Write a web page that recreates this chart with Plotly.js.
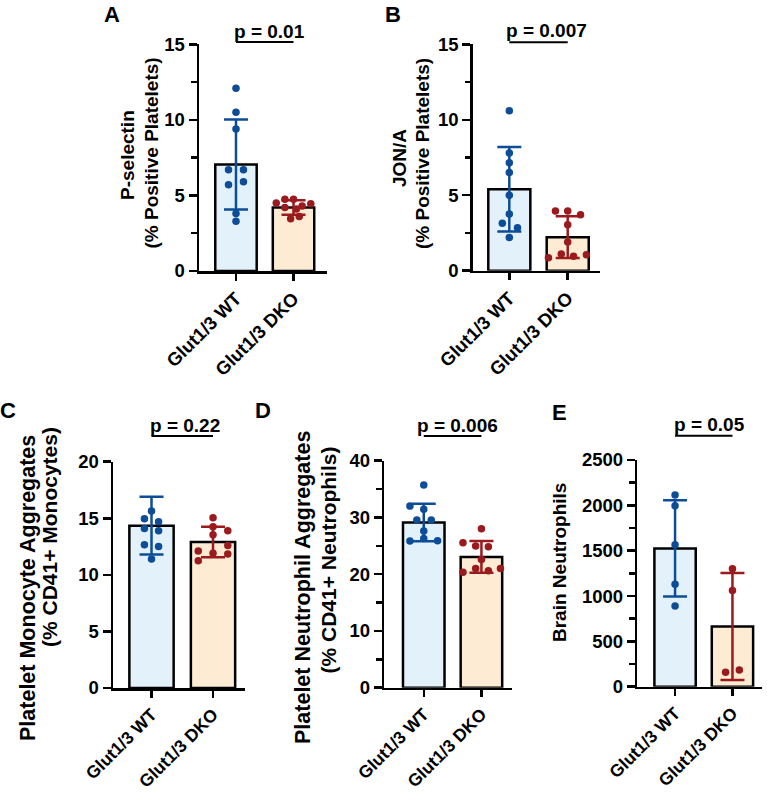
<!DOCTYPE html>
<html>
<head>
<meta charset="utf-8">
<script src="https://cdn.plot.ly/plotly-3.0.1.min.js"></script>
<style>html,body{margin:0;padding:0;background:#fff;}#chart{width:767px;height:795px;}</style>
</head>
<body>
<div id="chart"></div>
<script>
// ---------- data ----------
const groups = ['Glut1/3 WT', 'Glut1/3 DKO'];

// A: P-selectin (% positive platelets)
const pselWT = [12.1, 10.5, 9.4, 6.7, 6.7, 5.9, 5.7, 3.8, 3.3];
const pselWTJitter = [0, 0, 0, -0.13, 0.13, 0.13, -0.13, 0, 0];
const pselDKO = [4.75, 4.75, 4.5, 4.45, 4.3, 4.2, 4.1, 3.6, 3.45];
const pselDKOJitter = [-0.15, 0, -0.3, 0.3, 0.15, -0.15, 0.05, 0.1, -0.05];
const pselMean = [7.05, 4.2];
const pselSD = [2.98, 0.48];

// B: JON/A (% positive platelets)
const jonaWT = [10.6, 7.8, 7.15, 6.5, 5.0, 3.75, 3.15, 2.85, 2.2];
const jonaWTJitter = [0, 0, 0, 0, 0, 0, -0.12, 0.14, 0];
const jonaDKO = [3.95, 3.95, 3.7, 3.05, 1.9, 0.85, 1.1, 0.95, 1.05];
const jonaDKOJitter = [-0.21, 0, 0.22, 0, 0, -0.33, -0.11, 0.1, 0.32];
const jonaMean = [5.4, 2.22];
const jonaSD = [2.8, 1.38];

// C: platelet-monocyte aggregates (% CD41+ monocytes)
const pmaWT = [20.2, 15.65, 14.95, 14.7, 14.1, 13.9, 12.65, 12.5, 11.4];
const pmaWTJitter = [0, 0, -0.115, 0.115, -0.115, 0.115, -0.115, 0.115, 0];
const pmaDKO = [15.05, 14.25, 13.9, 13.55, 12.6, 12.1, 11.9, 11.85, 11.25];
const pmaDKOJitter = [0, 0, 0.24, 0, 0.24, -0.24, 0, 0.24, -0.24];
const pmaMean = [14.35, 12.9];
const pmaSD = [2.55, 1.35];

// D: platelet-neutrophil aggregates (% CD41+ neutrophils)
const pnaWT = [35.7, 32.0, 31.45, 29.55, 29.55, 27.6, 25.85, 26.3, 25.9];
const pnaWTJitter = [0, -0.24, 0, -0.12, 0.13, 0, -0.24, 0, 0.24];
const pnaDKO = [28.0, 25.55, 24.95, 24.85, 22.6, 20.35, 21.0, 20.6, 21.0];
const pnaDKOJitter = [0, -0.32, -0.1, 0.12, 0, -0.32, -0.1, 0.12, 0.33];
const pnaMean = [29.1, 23.05];
const pnaSD = [3.3, 2.8];

// E: brain neutrophils
const brainWT = [2115, 1995, 1565, 1130, 890];
const brainWTJitter = [0, 0, 0, 0, 0];
const brainDKO = [1300, 1060, 160, 185];
const brainDKOJitter = [0, 0, -0.12, 0.12];
const brainMean = [1525, 665];
const brainSD = [530, 590];

const pValues = ['p = 0.01', 'p = 0.007', 'p = 0.22', 'p = 0.006', 'p = 0.05'];
const panelLetters = ['A', 'B', 'C', 'D', 'E'];

// ---------- styling / layout ----------
const W = 767, H = 795;
const FONT = 'Liberation Sans, Arial, Helvetica, sans-serif';
const BLUE = '#0d4d97', RED = '#9a1a1e';
const FILL_WT = '#e3f1fb', FILL_DKO = '#fdebd3';
const LW = 2.5;
const X = px => px / W;
const Y = py => 1 - py / H;

const panels = [
  { wt: pselWT, wtJ: pselWTJitter, dko: pselDKO, dkoJ: pselDKOJitter, mean: pselMean, sd: pselSD,
    box: [199, 326.7, 44.3, 271], xr: [-0.643, 1.577], yr: [0, 15], dtick: 5, minor: 2.5, xfs: 18.5,
    titles: [['P-selectin', 128, 155, 19], ['(% Positive Platelets)', 151, 153.5, 19]],
    letter: [112, 15], pText: [269, 31.5], sigY: 42 },
  { wt: jonaWT, wtJ: jonaWTJitter, dko: jonaDKO, dkoJ: jonaDKOJitter, mean: jonaMean, sd: jonaSD,
    box: [472.7, 600, 44.3, 270.7], xr: [-0.627, 1.553], yr: [0, 15], dtick: 5, minor: 2.5, xfs: 18.5,
    titles: [['JON/A', 400, 158, 19], ['(% Positive Platelets)', 422.5, 153.5, 19]],
    letter: [393, 15], pText: [546.7, 31], sigY: 42.3 },
  { wt: pmaWT, wtJ: pmaWTJitter, dko: pmaDKO, dkoJ: pmaDKOJitter, mean: pmaMean, sd: pmaSD,
    box: [113, 245, 461.7, 688], xr: [-0.626, 1.52], yr: [0, 20], dtick: 5, minor: null, xfs: 17.5,
    titles: [['Platelet Monocyte Aggregates', 28, 588, 21.5], ['(% CD41+ Monocytes)', 49, 537, 21]],
    letter: [8, 410], pText: [185, 425.5], sigY: 436 },
  { wt: pnaWT, wtJ: pnaWTJitter, dko: pnaDKO, dkoJ: pnaDKOJitter, mean: pnaMean, sd: pnaSD,
    box: [384.3, 512, 460.7, 687.7], xr: [-0.684, 1.53], yr: [0, 40], dtick: 10, minor: 5, xfs: 17.5,
    titles: [['Platelet Neutrophil Aggregates', 303, 588, 21.5], ['(% CD41+ Neutrophils)', 327.5, 560, 21]],
    letter: [263, 410], pText: [457.5, 425.5], sigY: 436 },
  { wt: brainWT, wtJ: brainWTJitter, dko: brainDKO, dkoJ: brainDKOJitter, mean: brainMean, sd: brainSD,
    box: [637.3, 762.3, 460, 686.7], xr: [-0.658, 1.52], yr: [0, 2500], dtick: 500, minor: 250, xfs: 17.5,
    titles: [['Brain Neutrophils', 559, 563, 19]],
    letter: [559, 412], pText: [709, 424], sigY: 435.7 }
];

const data = [];
const layout = {
  width: W, height: H,
  margin: { l: 0, r: 0, t: 0, b: 0 },
  paper_bgcolor: '#fff', plot_bgcolor: 'rgba(0,0,0,0)',
  showlegend: false, barmode: 'overlay',
  font: { family: FONT, color: '#000', size: 18, weight: 'bold' },
  annotations: [], shapes: []
};

panels.forEach((p, i) => {
  const n = i === 0 ? '' : String(i + 1);
  const xa = 'x' + n, ya = 'y' + n;
  const [x0, x1, yTop, yBot] = p.box;

  layout['xaxis' + n] = {
    domain: [X(x0), X(x1)], anchor: ya, range: p.xr,
    tickmode: 'array', tickvals: [0, 1], ticktext: groups, tickangle: -45,
    ticks: 'outside', ticklen: 7, tickwidth: LW, tickcolor: '#000',
    showline: true, linewidth: LW, linecolor: '#000',
    showgrid: false, zeroline: false, fixedrange: true,
    tickfont: { family: FONT, size: p.xfs, weight: 'bold', color: '#000' }
  };
  const yax = {
    domain: [Y(yBot), Y(yTop)], anchor: xa, range: p.yr,
    tickmode: 'linear', tick0: 0, dtick: p.dtick,
    ticks: 'outside', ticklen: 8, tickwidth: LW, tickcolor: '#000',
    showline: true, linewidth: LW, linecolor: '#000',
    showgrid: false, zeroline: false, fixedrange: true,
    tickfont: { family: FONT, size: 18.5, weight: 'bold', color: '#000' }
  };
  if (p.minor) yax.minor = { dtick: p.minor, tick0: 0, ticks: 'outside', ticklen: 5.5, tickwidth: LW, tickcolor: '#000', showgrid: false };
  layout['yaxis' + n] = yax;

  // bars with SD error bars
  [[0, FILL_WT, BLUE], [1, FILL_DKO, RED]].forEach(([g, fill, col]) => {
    data.push({
      type: 'bar', x: [g], y: [p.mean[g]], width: [0.72], xaxis: xa, yaxis: ya,
      name: groups[g],
      marker: { color: fill, line: { color: '#000', width: LW } },
      error_y: { type: 'data', array: [p.sd[g]], visible: true, color: col, thickness: LW, width: 12 },
      hoverinfo: 'skip'
    });
  });
  // individual points
  data.push({
    type: 'scatter', mode: 'markers', xaxis: xa, yaxis: ya, name: groups[0],
    x: p.wtJ.map(j => 0 + j), y: p.wt, cliponaxis: false,
    marker: { size: 7.5, color: BLUE, line: { width: 0 } }
  });
  data.push({
    type: 'scatter', mode: 'markers', xaxis: xa, yaxis: ya, name: groups[1],
    x: p.dkoJ.map(j => 1 + j), y: p.dko, cliponaxis: false,
    marker: { size: 7.5, color: RED, line: { width: 0 } }
  });

  // significance bar between group centres
  const span = p.xr[1] - p.xr[0];
  layout.shapes.push({
    type: 'line', xref: xa + ' domain', yref: 'paper',
    x0: (0 - p.xr[0]) / span, x1: (1 - p.xr[0]) / span,
    y0: Y(p.sigY), y1: Y(p.sigY),
    line: { color: '#000', width: 2 }
  });
  layout.annotations.push({
    text: pValues[i], xref: 'paper', yref: 'paper', x: X(p.pText[0]), y: Y(p.pText[1]),
    xanchor: 'center', yanchor: 'middle', showarrow: false,
    font: { family: FONT, size: 19, weight: 'bold', color: '#000' }
  });
  layout.annotations.push({
    text: panelLetters[i], xref: 'paper', yref: 'paper', x: X(p.letter[0]), y: Y(p.letter[1]),
    xanchor: 'center', yanchor: 'middle', showarrow: false,
    font: { family: FONT, size: 22, weight: 'bold', color: '#000' }
  });
  p.titles.forEach(([t, tx, ty, fs]) => {
    layout.annotations.push({
      text: t, xref: 'paper', yref: 'paper', x: X(tx), y: Y(ty), textangle: -90,
      xanchor: 'center', yanchor: 'middle', showarrow: false,
      font: { family: FONT, size: fs, weight: 'bold', color: '#000' }
    });
  });
});

Plotly.newPlot('chart', data, layout, { displayModeBar: false, staticPlot: true });
</script>
</body>
</html>
